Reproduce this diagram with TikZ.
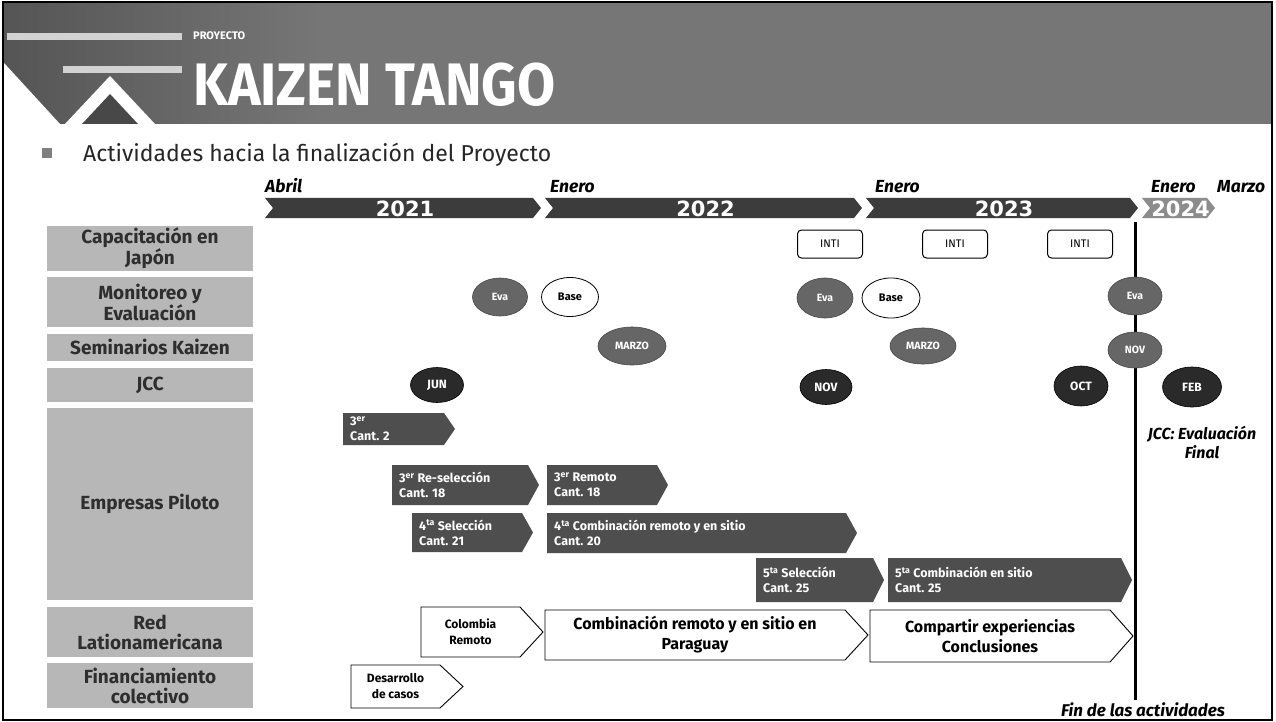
\documentclass[tikz,border=0pt]{standalone}
\usepackage{fontspec}
\setmainfont{Fira Sans}
\newfontfamily\yearfont{DejaVu Sans}
\newfontfamily\titlefont{Fira Sans}[FakeStretch=0.92]
\usetikzlibrary{shapes.geometric}
\definecolor{hdr}{HTML}{767676}
\definecolor{hdrdark}{HTML}{555555}
\definecolor{stripe}{HTML}{D2D2D2}
\definecolor{rowgray}{HTML}{B7B7B7}
\definecolor{lbltext}{HTML}{2E2E2E}
\definecolor{bardark}{HTML}{3C3C3C}
\definecolor{barlight}{HTML}{8C8C8C}
\definecolor{arrdark}{HTML}{4E4E4E}
\definecolor{evfill}{HTML}{666666}
\definecolor{jccfill}{HTML}{2A2A2A}
\newcommand\yearseg[5]{%
  \fill[#3] (#1,198) -- ({#2-8},198) -- (#2,208) -- ({#2-8},218) -- (#1,218) -- ({#1+8},208) -- cycle;
  \node[yearlbl] (#4) at ({(#1+#2)/2+2},208.5) {#5};}
\newcommand\darkarrow[6]{%
  \fill[arrdark] (#1,#2) -- ({#3-11},#2) -- (#3,{(#2+#4)/2}) -- ({#3-11},#4) -- (#1,#4) -- cycle;
  \node[darktxt, anchor=west] (#5) at ({#1+7},{(#2+#4)/2}) {#6};}
\newcommand\whitearrow[7]{%
  \draw[fill=white, line width=0.9pt] (#1,#2) -- ({#3-23},#2) -- (#3,{(#2+#4)/2}) -- ({#3-23},#4) -- (#1,#4) -- cycle;
  \node[whitetxt,#7] (#5) at ({(#1+#3-23)/2},{(#2+#4)/2}) {#6};}
\begin{document}
\begin{tikzpicture}[x=1pt,y=-1pt,
  rowbox/.style={rectangle, fill=rowgray, text=lbltext, minimum width=206pt, inner sep=0pt, align=center, font=\bfseries\fontsize{19}{20}\selectfont},
  month/.style={font=\bfseries\itshape\fontsize{17.5}{17.5}\selectfont, text=black, inner sep=0pt},
  yearlbl/.style={font=\yearfont\bfseries\fontsize{21}{21}\selectfont, text=white, inner sep=0pt},
  inti/.style={rectangle, rounded corners=4pt, draw=black, line width=1pt, fill=white, minimum width=65pt, minimum height=28pt, font=\fontsize{11}{11}\selectfont, inner sep=0pt},
  evell/.style={ellipse, fill=evfill, draw=evfill!70!black, line width=0.6pt, text=white, inner sep=0pt, font=\bfseries\fontsize{10.5}{10.5}\selectfont},
  baseell/.style={ellipse, fill=white, draw=black, line width=0.8pt, inner sep=0pt, font=\bfseries\fontsize{11}{11}\selectfont},
  jccell/.style={ellipse, fill=jccfill, draw=black, line width=0.6pt, text=white, inner sep=0pt, font=\bfseries\fontsize{12}{12}\selectfont},
  darktxt/.style={text=white, align=left, inner sep=0pt, font=\bfseries\fontsize{12.5}{15}\selectfont},
  whitetxt/.style={text=black, align=center, inner sep=0pt, font=\bfseries\fontsize{12}{16}\selectfont},
  bigtxt/.style={font=\bfseries\fontsize{16}{20}\selectfont},
  note/.style={font=\bfseries\itshape\fontsize{16}{19}\selectfont, inner sep=0pt, align=center}
]
\useasboundingbox (0,0) rectangle (1276,722);
\fill[white] (0,0) rectangle (1276,722);
% header
\fill[hdr] (4,3) rectangle (1271,124);
\shade[left color=hdrdark, right color=hdr] (4,3) rectangle (320,124);
\fill[stripe] (7,33) rectangle (182,40);
\fill[stripe] (63,66) rectangle (182,73);
\fill[white] (4,63) -- (60,124) -- (4,124) -- cycle;
\fill[white] (65,124) -- (110,76) -- (155,124) -- cycle;
\fill[hdrdark!85!black] (82,124) -- (110,94) -- (138,124) -- cycle;
\node[anchor=west, text=white, font=\bfseries\fontsize{11}{11}\selectfont, inner sep=0pt] (proy) at (193,36) {PROYECTO};
\node[anchor=base west, text=white, font=\titlefont\bfseries\fontsize{60}{60}\selectfont, inner sep=0pt] (title) at (193,106) {KAIZEN TANGO};
\draw[line width=1.5pt] (3,2) rectangle (1272,720);
% subtitle
\fill[gray] (42,148) rectangle (52,158);
\node[anchor=base west, font=\fontsize{23}{23}\selectfont, text=black!85, inner sep=0pt] (sub) at (83,162) {Actividades hacia la finalización del Proyecto};
% months
\node[month, anchor=base west] (m1) at (265,193) {Abril};
\node[month, anchor=base west] (m2) at (550,193) {Enero};
\node[month, anchor=base west] (m3) at (875,193) {Enero};
\node[month, anchor=base west] (m4) at (1151,193) {Enero};
\node[month, anchor=base west] (m5) at (1217,193) {Marzo};
% timeline
\yearseg{265}{541}{bardark}{y21}{2021}
\yearseg{545}{862}{bardark}{y22}{2022}
\yearseg{866}{1138}{bardark}{y23}{2023}
\yearseg{1142}{1215}{barlight}{y24}{2024}
% rows
\node[rowbox, minimum height=45pt] (rcap) at (150,248) {Capacitación en\\Japón};
\node[rowbox, minimum height=50pt] (rmon) at (150,302) {Monitoreo y\\Evaluación};
\node[rowbox, minimum height=27pt] (rsem) at (150,347) {Seminarios Kaizen};
\node[rowbox, minimum height=34pt] (rjcc) at (150,385) {JCC};
\node[rowbox, minimum height=192pt] (remp) at (150,504) {Empresas Piloto};
\node[rowbox, minimum height=50pt] (rred) at (150,632) {Red\\Lationamericana};
\node[rowbox, minimum height=45pt] (rfin) at (150,685.5) {Financiamiento\\colectivo};
% end line
\coordinate (fa) at (1135,222);
\coordinate (fb) at (1135,700);
\draw[line width=3pt] (fa) -- (fb);
% INTI
\node[inti] (inti1) at (830,244) {INTI};
\node[inti] (inti2) at (955,244) {INTI};
\node[inti] (inti3) at (1080,244) {INTI};
% monitoreo
\node[evell, minimum width=55pt, minimum height=38pt] (eva1) at (500,297) {Eva};
\node[baseell, minimum width=57pt, minimum height=39pt] (base1) at (570,297) {Base};
\node[evell, minimum width=56pt, minimum height=40pt] (eva2) at (825,298) {Eva};
\node[baseell, minimum width=58pt, minimum height=40pt] (base2) at (891,298) {Base};
\node[evell, minimum width=54pt, minimum height=38pt] (eva3) at (1135,296) {Eva};
% seminarios
\node[evell, minimum width=68pt, minimum height=38pt] (mar1) at (632,346) {MARZO};
\node[evell, minimum width=66pt, minimum height=36pt] (mar2) at (923,346) {MARZO};
\node[evell, minimum width=54pt, minimum height=36pt] (nov1) at (1135,350) {NOV};
% JCC
\node[jccell, minimum width=53pt, minimum height=35pt] (jun) at (437,385) {JUN};
\node[jccell, minimum width=52pt, minimum height=35pt] (nov2) at (826,387) {NOV};
\node[jccell, minimum width=54pt, minimum height=40pt] (oct) at (1081,386) {OCT};
\node[jccell, minimum width=59pt, minimum height=40pt] (feb) at (1192,387) {FEB};
\node[note] (jccnote) at (1202,442) {JCC: Evaluación\\Final};
% empresas piloto
\darkarrow{343}{413}{455}{445}{a1}{3\textsuperscript{er}\\Cant. 2}
\darkarrow{392}{465}{539}{505}{a2}{3\textsuperscript{er} Re-selección\\Cant. 18}
\darkarrow{412}{513}{533}{552}{a3}{4\textsuperscript{ta} Selección\\Cant. 21}
\darkarrow{547}{465}{668}{505}{a4}{3\textsuperscript{er} Remoto\\Cant. 18}
\darkarrow{547}{513}{857}{553}{a5}{4\textsuperscript{ta} Combinación remoto y en sitio\\Cant. 20}
\darkarrow{756}{558}{884}{602}{a6}{5\textsuperscript{ta} Selección\\Cant. 25}
\darkarrow{888}{558}{1132}{602}{a7}{5\textsuperscript{ta} Combinación en sitio\\Cant. 25}
% red
\whitearrow{421}{607}{543}{657}{w1}{Colombia\\Remoto}{}
\whitearrow{545}{610}{868}{660}{w2}{Combinación remoto y en sitio en\\Paraguay}{bigtxt}
\whitearrow{870}{610}{1133}{662}{w3}{Compartir experiencias\\Conclusiones}{bigtxt}
\whitearrow{351}{665}{463}{708}{w4}{Desarrollo\\de casos}{}
% fin
\node[anchor=base, font=\bfseries\itshape\fontsize{17}{17}\selectfont, inner sep=0pt] (fin) at (1143,716) {Fin de las actividades};
\end{tikzpicture}
\end{document}
